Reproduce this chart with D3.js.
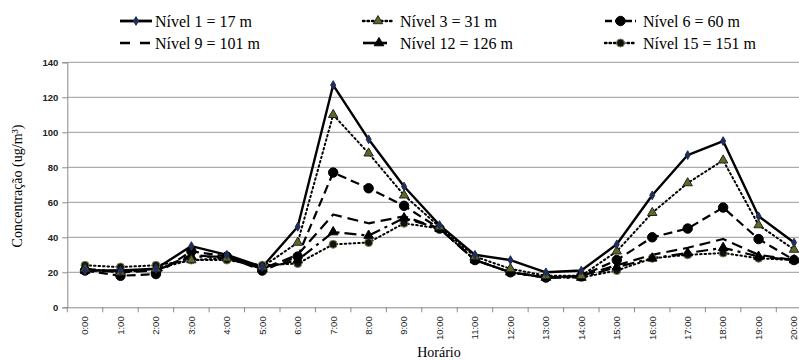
<!DOCTYPE html>
<html><head><meta charset="utf-8">
<script src="https://cdn.jsdelivr.net/npm/d3@7"></script>
<style>html,body{margin:0;padding:0;background:#fff;overflow:hidden}</style>
</head><body>
<svg id="c" width="799" height="360"></svg>
<script>
const hours = ["0:00","1:00","2:00","3:00","4:00","5:00","6:00","7:00","8:00","9:00","10:00","11:00","12:00","13:00","14:00","15:00","16:00","17:00","18:00","19:00","20:00"];
const yTicks = [0,20,40,60,80,100,120,140];
const seriesNames = ["Nível 1 = 17 m","Nível 3 = 31 m","Nível 6 = 60 m","Nível 9 = 101 m","Nível 12 = 126 m","Nível 15 = 151 m"];
const nivel1  = [21,21,22,35,30,23,46,127,96,69,47,30,27,20,21,36,64,87,95,52,37];
const nivel3  = [22,20,22,27,28,23,37,110,88,64,46,29,22,18,18,32,54,71,84,47,33];
const nivel6  = [21,18,19,32,29,21,29,77,68,58,45,27,20,17,18,27,40,45,57,39,27];
const nivel9  = [22,20,21,30,28,22,30,53,48,52,45,27,20,17,18,24,30,34,39,30,27];
const nivel12 = [21,21,21,29,29,22,27,43,41,51,45,27,20,17,17,23,28,31,34,29,27];
const nivel15 = [24,23,24,27,27,24,25,36,37,48,45,27,20,17,17,21,28,30,31,28,27];
const seriesValues = [nivel1,nivel3,nivel6,nivel9,nivel12,nivel15];

const styles = [
  {dash:null, w:2.4, marker:"diamond", fill:"#1f2f5a", stroke:"#1f2f5a", size:22},
  {dash:"1.5,3", w:2, marker:"triangle", fill:"#5d6b22", stroke:"#222", size:38, cap:"round"},
  {dash:"9,5", w:2.2, marker:"circle", fill:"#000", stroke:"#000", size:70},
  {dash:"11,6", w:2.2, marker:null},
  {dash:"12,5,3,5", w:2.2, marker:"triangle", fill:"#000", stroke:"#000", size:40},
  {dash:"1.5,3", w:2, marker:"circle", fill:"#111", stroke:"#7a8050", size:50, cap:"round"}
];

const svg = d3.select("#c");
const plotLeft = 67.3, plotTop = 62.3, plotBottom = 307.3;
const x = d3.scaleBand().domain(hours).range([plotLeft, plotLeft + 21*35.45]);
const y = d3.scaleLinear().domain([0,140]).range([plotBottom, plotTop]);

// gridlines
svg.append("g").selectAll("line").data(yTicks.filter(d=>d>0)).join("line")
  .attr("x1", plotLeft).attr("x2", 830).attr("y1", d=>y(d)).attr("y2", d=>y(d))
  .attr("stroke", "#9a9a9a").attr("stroke-width", 1);

// y axis
const ya = svg.append("g").attr("transform", `translate(${plotLeft},0)`)
  .call(d3.axisLeft(y).tickValues(yTicks).tickSize(5).tickPadding(4));
ya.select(".domain").attr("stroke", "#8a8a8a");
ya.selectAll(".tick line").attr("stroke", "#8a8a8a");
ya.selectAll(".tick text").attr("font-family","Liberation Sans, Arial, sans-serif").attr("font-size", 9.5).attr("font-weight","bold").attr("fill","#222");

// x axis
const xa = svg.append("g").attr("transform", `translate(0,${plotBottom})`)
  .call(d3.axisBottom(x).tickSize(0).tickPadding(0));
xa.select(".domain").attr("stroke", "#8a8a8a");
xa.selectAll(".tick text")
  .attr("font-family","Liberation Sans, Arial, sans-serif").attr("font-size", 9.5).attr("fill","#222")
  .attr("transform","rotate(-90)").attr("text-anchor","end").attr("dy","0.35em").attr("x",-9).attr("y",0);
// boundary ticks
svg.append("g").selectAll("line").data(d3.range(22)).join("line")
  .attr("x1", i=>plotLeft + i*x.step()).attr("x2", i=>plotLeft + i*x.step())
  .attr("y1", plotBottom).attr("y2", plotBottom+5).attr("stroke","#8a8a8a");

// lines
const line = d3.line().x((d,i)=>x(hours[i]) + x.bandwidth()/2).y(d=>y(d));
const drawOrder = [5,4,3,2,1,0];
drawOrder.forEach(si=>{
  const st = styles[si];
  svg.append("path").datum(seriesValues[si]).attr("d", line)
    .attr("fill","none").attr("stroke","#000").attr("stroke-width", st.w)
    .attr("stroke-dasharray", st.dash).attr("stroke-linecap", st.cap||"butt").attr("stroke-linejoin","round");
});
const symType = {diamond:d3.symbolDiamond, triangle:d3.symbolTriangle, circle:d3.symbolCircle};
drawOrder.forEach(si=>{
  const st = styles[si];
  if(!st.marker) return;
  svg.append("g").selectAll("path").data(seriesValues[si]).join("path")
    .attr("transform",(d,i)=>`translate(${x(hours[i]) + x.bandwidth()/2},${y(d)})`)
    .attr("d", d3.symbol(symType[st.marker], st.size))
    .attr("fill", st.fill).attr("stroke", st.stroke).attr("stroke-width", 1);
});

// legend
const legPos = [[120,21],[363,21],[605,21],[120,43],[363,43],[605,43]];
const legLen = [32,30,31,32,24,31];
const lg = svg.append("g");
seriesNames.forEach((name,i)=>{
  const [lx,ly] = legPos[i], st = styles[i];
  lg.append("line").attr("x1",lx).attr("x2",lx+legLen[i]).attr("y1",ly).attr("y2",ly)
    .attr("stroke","#000").attr("stroke-width",st.w+0.4).attr("stroke-dasharray", i===3?"10,10":(i===2?"7,3":(i===4?null:st.dash)))
    .attr("stroke-linecap", st.cap||"butt");
  if(st.marker){
    lg.append("path").attr("transform",`translate(${lx+legLen[i]/2 + (i===4?4:0)},${ly})`)
      .attr("d", d3.symbol(symType[st.marker], st.size)).attr("fill", st.fill).attr("stroke", st.stroke);
  }
  const tx = [155,400,643][i%3];
  lg.append("text").attr("x",tx).attr("y",ly+5.5).text(name)
    .attr("font-family","'Liberation Serif', 'Times New Roman', serif").attr("font-size",16).attr("fill","#000");
});

// axis titles
svg.append("text").attr("transform","translate(22,186) rotate(-90)").attr("text-anchor","middle")
  .attr("font-family","'Liberation Serif', 'Times New Roman', serif").attr("font-size",14).text("Concentração (ug/m³)");
svg.append("text").attr("x",439).attr("y",357).attr("text-anchor","middle")
  .attr("font-family","'Liberation Serif', 'Times New Roman', serif").attr("font-size",14).text("Horário");
</script>
</body></html>
